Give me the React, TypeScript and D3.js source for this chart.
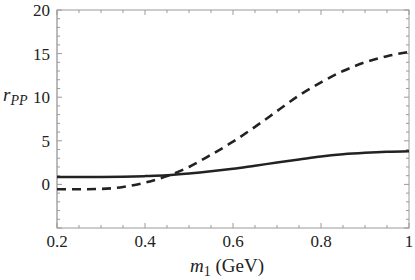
import React from "react";
import * as d3 from "d3";

const massGeV = [0.2, 0.25, 0.3, 0.35, 0.4, 0.45, 0.5, 0.55, 0.6, 0.65, 0.7, 0.75, 0.8, 0.85, 0.9, 0.95, 1.0];
const solidSeries = [0.84, 0.84, 0.85, 0.88, 0.95, 1.05, 1.25, 1.5, 1.8, 2.15, 2.5, 2.85, 3.2, 3.45, 3.62, 3.74, 3.8];
const dashedSeries = [-0.55, -0.56, -0.52, -0.3, 0.2, 0.95, 2.0, 3.4, 4.9, 6.6, 8.4, 10.2, 11.7, 13.0, 14.0, 14.7, 15.2];
const xTickLabels = ["0.2", "0.4", "0.6", "0.8", "1"];
const xTickValues = [0.2, 0.4, 0.6, 0.8, 1];
const yTickValues = [0, 5, 10, 15, 20];

export default function App() {
  const W = 415, H = 280;
  const left = 57, right = 409, top = 10, bottom = 228;
  const x = d3.scaleLinear().domain([0.2, 1]).range([left, right]);
  const y = d3.scaleLinear().domain([-5, 20]).range([bottom, top]);
  const line = d3.line<number>().x((_, i) => x(massGeV[i])).y((d) => y(d)).curve(d3.curveMonotoneX);

  const xMinor = d3.range(0.2, 1.0001, 0.05);
  const yMinor = d3.range(-5, 20.0001, 1);
  const gray = "#9a9a9a";
  const font = "Liberation Serif";

  return (
    <svg width={W} height={H} style={{ position: "absolute", left: 0, top: 0 }}>
      <rect x={0} y={0} width={W} height={H} fill="white" />
      <defs>
        <clipPath id="plot">
          <rect x={left} y={top} width={right - left} height={bottom - top} />
        </clipPath>
      </defs>
      <rect x={left} y={top} width={right - left} height={bottom - top} fill="none" stroke={gray} strokeWidth={1} />
      <line x1={left} x2={left} y1={top} y2={bottom} stroke="#bbb" strokeWidth={2} />
      {xMinor.map((v, i) => {
        const major = xTickValues.some((t) => Math.abs(t - v) < 1e-6);
        const len = major ? 5 : 3;
        return (
          <g key={"xt" + i}>
            <line x1={x(v)} x2={x(v)} y1={bottom} y2={bottom - len} stroke={gray} />
            <line x1={x(v)} x2={x(v)} y1={top} y2={top + len} stroke={gray} />
          </g>
        );
      })}
      {yMinor.map((v, i) => {
        const major = yTickValues.some((t) => Math.abs(t - v) < 1e-6) || Math.abs(v + 5) < 1e-6;
        const len = major ? 5 : 3;
        return (
          <g key={"yt" + i}>
            <line x1={left} x2={left + len} y1={y(v)} y2={y(v)} stroke={gray} />
            <line x1={right} x2={right - len} y1={y(v)} y2={y(v)} stroke={gray} />
          </g>
        );
      })}
      {xTickValues.map((v, i) => (
        <text key={"xl" + i} x={x(v)} y={247} textAnchor="middle" fontFamily={font} fontSize={17} fill="#222">
          {xTickLabels[i]}
        </text>
      ))}
      {yTickValues.map((v) => (
        <text key={"yl" + v} x={50} y={y(v) + 6} textAnchor="end" fontFamily={font} fontSize={17} fill="#222">
          {v}
        </text>
      ))}
      <g clipPath="url(#plot)">
        <path d={line(solidSeries) || ""} fill="none" stroke="#222" strokeWidth={2.5} />
        <path d={line(dashedSeries) || ""} fill="none" stroke="#222" strokeWidth={2.6} strokeDasharray="9 6" />
      </g>
      <text x={190} y={272} fontFamily={font} fontSize={19} fill="#222">
        <tspan fontStyle="italic">m</tspan>
        <tspan fontSize={14} dy={4}>1</tspan>
        <tspan dy={-4}> (GeV)</tspan>
      </text>
      <text x={3} y={101} fontFamily={font} fontSize={19} fill="#222">
        <tspan fontStyle="italic">r</tspan>
        <tspan fontStyle="italic" fontSize={14} dy={4}>PP</tspan>
      </text>
    </svg>
  );
}
